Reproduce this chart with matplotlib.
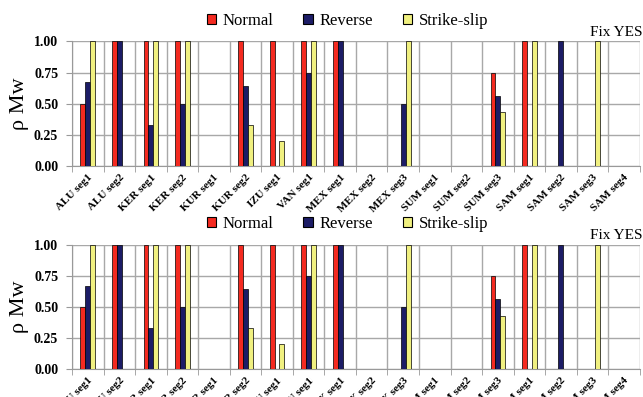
import numpy as np
import matplotlib
matplotlib.use("Agg")
import matplotlib.pyplot as plt
from matplotlib.patches import Patch

segments = ["ALU seg1", "ALU seg2", "KER seg1", "KER seg2", "KUR seg1", "KUR seg2",
            "IZU seg1", "VAN seg1", "MEX seg1", "MEX seg2", "MEX seg3", "SUM seg1",
            "SUM seg2", "SUM seg3", "SAM seg1", "SAM seg2", "SAM seg3", "SAM seg4"]
normal = [0.50, 1.00, 1.00, 1.00, 0, 1.00, 1.00, 1.00, 1.00, 0, 0, 0, 0, 0.75, 1.00, 0, 0, 0]
reverse = [0.67, 1.00, 0.33, 0.50, 0, 0.64, 0, 0.75, 1.00, 0, 0.50, 0, 0, 0.56, 0, 1.00, 0, 0]
strike = [1.00, 0, 1.00, 1.00, 0, 0.33, 0.20, 1.00, 0, 0, 1.00, 0, 0, 0.43, 1.00, 0, 1.00, 0]
yticks = [0.00, 0.25, 0.50, 0.75, 1.00]

series = [("Normal", normal, "#f42a20"),
          ("Reverse", reverse, "#1c1c66"),
          ("Strike-slip", strike, "#f0f080")]

serif = ["Liberation Serif", "DejaVu Serif"]
plt.rcParams["font.family"] = serif

fig = plt.figure(figsize=(6.43, 3.97), dpi=100)

def panel(bottom):
    ax = fig.add_axes([0.112, bottom, 0.883, 0.313])
    x = np.arange(len(segments)) + 0.5
    w = 0.155
    for k, (name, vals, col) in enumerate(series):
        ax.bar(x + (k - 1) * w, vals, width=w, color=col, edgecolor="black",
               linewidth=0.5, zorder=3)
    ax.set_xlim(0, len(segments))
    ax.set_ylim(0, 1)
    ax.set_xticks(x)
    ax.set_xticklabels(segments, rotation=45, ha="right", rotation_mode="anchor",
                       fontsize=8, fontweight="bold")
    ax.set_xticks(np.arange(len(segments) + 1), minor=True)
    ax.tick_params(axis="x", which="major", length=0, pad=5)
    ax.tick_params(axis="x", which="minor", length=4, color="#999999")
    ax.set_yticks(yticks)
    ax.set_yticklabels(["%.2f" % v for v in yticks], fontsize=10, fontweight="bold")
    ax.tick_params(axis="y", length=4, color="#999999", pad=6)
    ax.grid(True, which="minor", axis="x", color="#a8a8a8", linewidth=1, zorder=0)
    ax.grid(True, which="major", axis="y", color="#a8a8a8", linewidth=1, zorder=0)
    for s in ["top", "right"]:
        ax.spines[s].set_visible(False)
    for s in ["left", "bottom"]:
        ax.spines[s].set_color("#999999")
    ax.set_ylabel("ρ Mw", fontsize=16)
    ax.yaxis.set_label_coords(-0.076, 0.5)
    handles = [Patch(facecolor=c, edgecolor="black", linewidth=0.8, label=n)
               for n, _, c in series]
    ax.legend(handles=handles, loc="lower center", bbox_to_anchor=(0.485, 1.1),
              ncol=3, frameon=False, fontsize=12, handlelength=0.55,
              handleheight=0.55, handletextpad=0.4, columnspacing=1.8,
              borderaxespad=0, borderpad=0)
    ax.text(1.005, 1.02, "Fix YES", transform=ax.transAxes, ha="right",
            va="bottom", fontsize=11)
    return ax

panel(0.5826)
panel(0.0705)

fig.savefig("out.png", dpi=100)
